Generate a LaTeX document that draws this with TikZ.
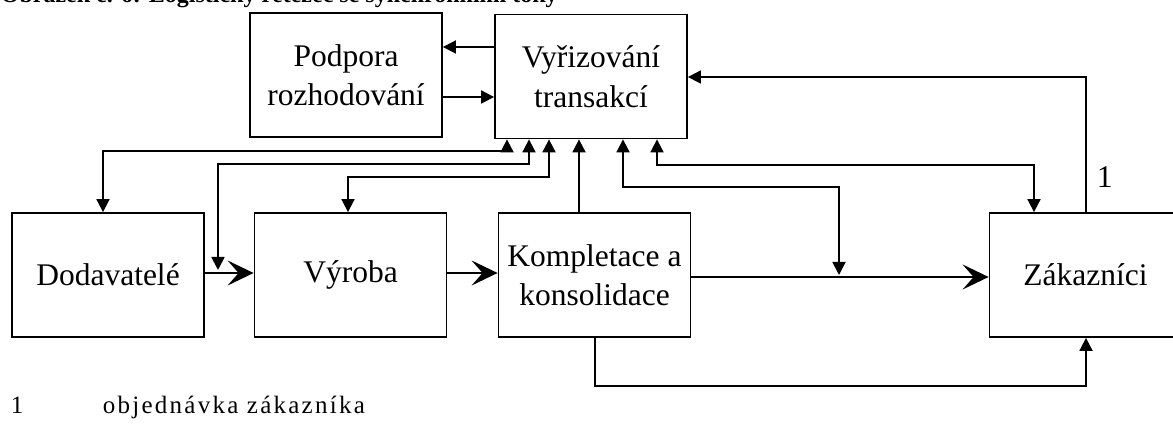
\documentclass[tikz,border=0pt]{standalone}
\usepackage{fontspec}
\setmainfont{Liberation Serif}
\usetikzlibrary{arrows.meta}

\newcommand\diagfont{\fontsize{31.5}{39.5}\selectfont}
\newcommand\legendfont{\fontsize{25}{30}\selectfont\addfontfeature{LetterSpace=9}}
\newcommand\captionfont{\fontsize{24}{28}\selectfont\bfseries}

\begin{document}
\begin{tikzpicture}[x=1pt,y=-1pt,
  line width=1.8pt,
  box/.style={draw, minimum width=192pt, minimum height=124pt, inner sep=0pt,
              align=center, font=\diagfont},
  tip/.style={-{Triangle[length=13pt,width=13pt]}},
  tips/.style={{Triangle[length=13pt,width=13pt]}-{Triangle[length=13pt,width=13pt]}},
  flow/.style={-{Stealth[length=26pt,width=25pt,inset=11pt]}},
  txt/.style={anchor=base west, inner sep=0pt},
]
\useasboundingbox (0,0) rectangle (1173,427);
\fill[white] (0,0) rectangle (1173,427);
\clip (0,0) rectangle (1173,427);

% caption line, partly above the page edge
\node[txt, font=\captionfont] (title) at (0,3)
  {Obrázek č. 6: Logistický řetězec se synchronními toky};

% blocks
\node[box] (pod)  at (346,75)    {Podpora\\rozhodování};
\node[box] (vyr)  at (591,76.5)  {Vyřizování\\transakcí};
\node[box] (dod)  at (108,275)   {Dodavatelé};
\node[box] (vyro) at (350.5,275) {Výroba};
\node[box] (kom)  at (594.5,275) {Kompletace a\\konsolidace};
\node[box] (zak)  at (1085.5,275){Zákazníci};

% routing points
\coordinate (l47) at (0,47);
\coordinate (l97) at (0,97);
\coordinate (r1)  at (1086,77);
\coordinate (a1)  at (103,151);
\coordinate (a2)  at (507,151);
\coordinate (b0)  at (218,270);
\coordinate (b1)  at (218,164);
\coordinate (b2)  at (529,164);
\coordinate (c1)  at (348,177);
\coordinate (c2)  at (549,177);
\coordinate (d1)  at (579,0);
\coordinate (e1)  at (623,187);
\coordinate (e2)  at (839,187);
\coordinate (e3)  at (839,275);
\coordinate (f1)  at (657,165);
\coordinate (f2)  at (1034,165);
\coordinate (m1)  at (0,273);
\coordinate (m2)  at (0,277);
\coordinate (g1)  at (595,386);
\coordinate (g2)  at (1086,386);

% information flows
\draw[tip] (vyr.west |- l47) -- (pod.east |- l47);
\draw[tip] (pod.east |- l97) -- (vyr.west |- l97);
\draw[tip] (zak.north -| r1) -- (r1) -- (vyr.east |- r1);
\node[txt, font=\diagfont] (n1) at (1096,188) {1};

\draw[tips] (dod.north -| a1) -- (a1) -- (a2) -- (vyr.south -| a2);
\draw[tips] (b0) -- (b1) -- (b2) -- (vyr.south -| b2);
\draw[tips] (vyro.north -| c1) -- (c1) -- (c2) -- (vyr.south -| c2);
\draw[tip]  (kom.north -| d1) -- (vyr.south -| d1);
\draw[tips] (e3) -- (e2) -- (e1) -- (vyr.south -| e1);
\draw[tips] (zak.north -| f2) -- (f2) -- (f1) -- (vyr.south -| f1);

% material flows
\draw[flow] (dod.east |- m1) -- (vyro.west |- m1);
\draw[flow] (vyro.east |- m1) -- (kom.west |- m1);
\draw[flow] (kom.east |- m2) -- (zak.west |- m2);
\draw[tip]  (kom.south -| g1) -- (g1) -- (g2) -- (zak.south -| g2);

% legend
\node[txt, font=\legendfont] (k1) at (10,414) {1};
\node[txt, font=\legendfont] (k2) at (102,414) {objednávka zákazníka};
\end{tikzpicture}
\end{document}
